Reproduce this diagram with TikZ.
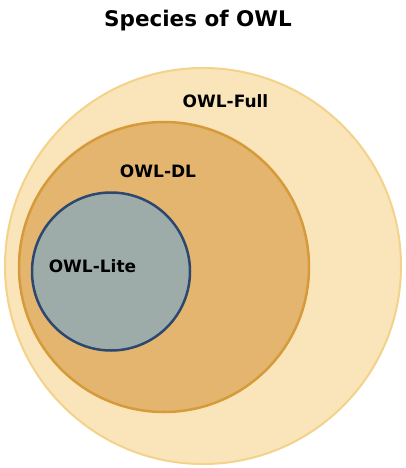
\documentclass[tikz,border=0pt]{standalone}
\usepackage{fontspec}
\setmainfont{DejaVu Sans}
\definecolor{fullfill}{HTML}{FAE5BA}
\definecolor{fullline}{HTML}{F3D28A}
\definecolor{dlfill}{HTML}{E4B56E}
\definecolor{dlline}{HTML}{D69A3B}
\definecolor{litefill}{HTML}{9DACA9}
\definecolor{liteline}{HTML}{2C4770}
\begin{document}
\begin{tikzpicture}[x=1pt,y=1pt,
  set/.style={circle, inner sep=0pt, outer sep=0pt},
  lbl/.style={font=\fontsize{17}{20}\selectfont\bfseries, anchor=base, text=black}]
\useasboundingbox[fill=white] (0,0) rectangle (405,-468);
\node[set, fill=fullfill, draw=fullline, line width=2pt, minimum size=396pt] (full) at (203,-266) {};
\node[set, fill=dlfill, draw=dlline, line width=2.5pt, minimum size=290pt] (dl) at (164,-267) {};
\node[set, fill=litefill, draw=liteline, line width=2.5pt, minimum size=158pt] (lite) at (111,-271.5) {};
\node[font=\fontsize{21.5}{25}\selectfont\bfseries, anchor=base] (title) at (198,-27) {Species of OWL};
\node[lbl] (tfull) at (225.5,-107) {OWL-Full};
\node[lbl] (tdl) at (158,-177) {OWL-DL};
\node[lbl] (tlite) at (92.5,-272) {OWL-Lite};
\end{tikzpicture}
\end{document}
